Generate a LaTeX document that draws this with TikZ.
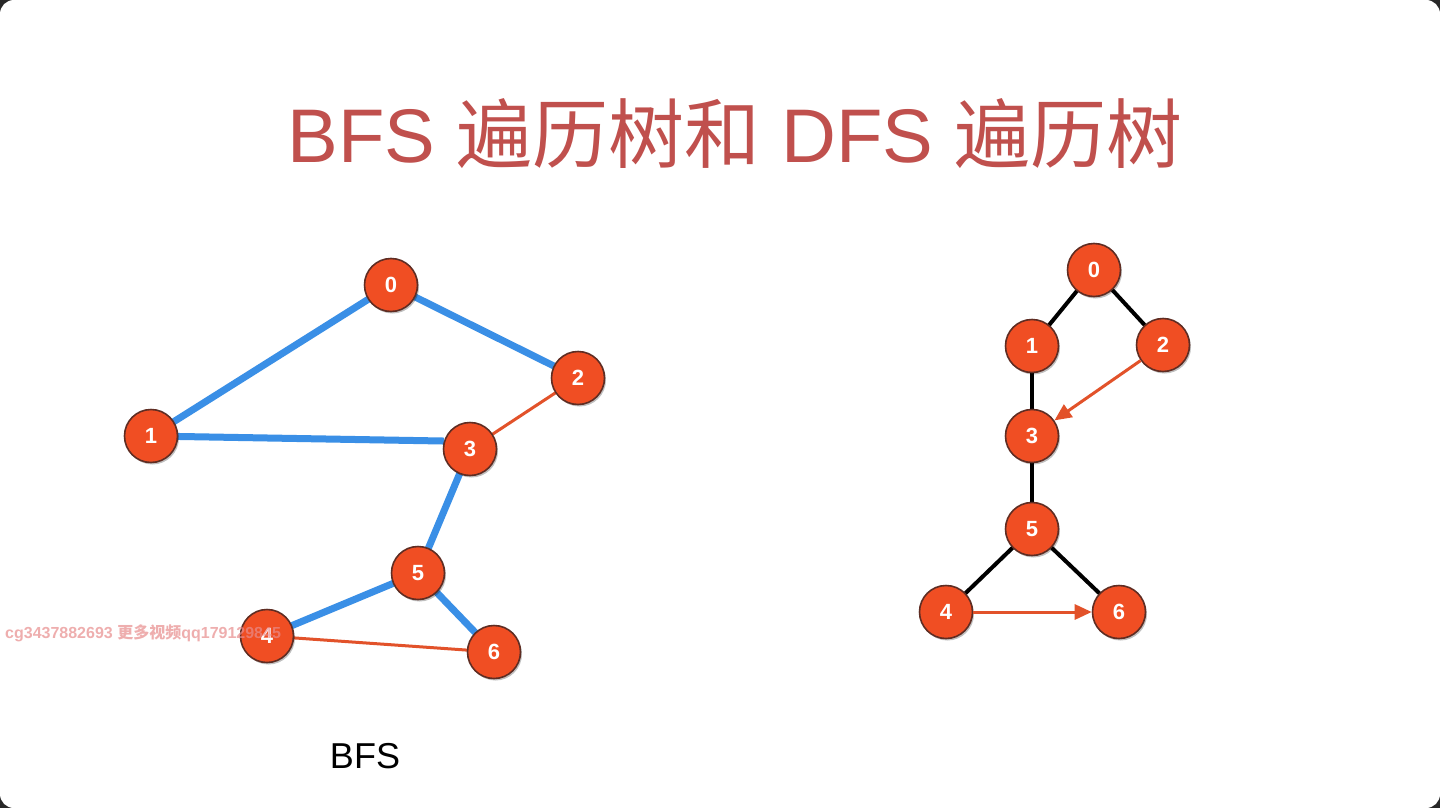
\documentclass[tikz,border=0pt]{standalone}
\usepackage{fontspec}
\setmainfont{Liberation Sans}
\newfontfamily\cjk{Noto Sans CJK SC}
\usetikzlibrary{arrows.meta,shadows}
\definecolor{nodefill}{RGB}{240,78,35}
\definecolor{nodeedge}{RGB}{95,45,35}
\definecolor{bfsblue}{RGB}{58,143,230}
\definecolor{crossred}{RGB}{226,82,42}
\definecolor{titlered}{RGB}{192,80,77}
\definecolor{wmark}{RGB}{232,140,140}
\definecolor{screen}{RGB}{40,40,40}
\pgfdeclarelayer{framelayer}
\pgfdeclarelayer{edgelayer}
\pgfsetlayers{framelayer,edgelayer,main}
\tikzset{
  vtx/.style={circle,minimum size=53pt,inner sep=0pt,fill=nodefill,draw=nodeedge,line width=1.6pt,
    text=white,font=\fontsize{22}{22}\selectfont\bfseries,
    drop shadow={shadow xshift=1.5pt,shadow yshift=-2pt,opacity=0.25,fill=black}},
  treeedge/.style={bfsblue,line width=7pt},
  crossedge/.style={crossred,line width=3pt},
  dfsedge/.style={black,line width=4pt},
  backarrow/.style={crossred,line width=3pt,-{Triangle[length=17pt,width=15pt]}},
}
\begin{document}
\begin{tikzpicture}[x=1pt,y=-1pt]
\useasboundingbox (0,0) rectangle (1440,808);
\begin{pgfonlayer}{framelayer}
  \fill[screen] (0,0) rectangle (1440,808);
  \fill[white,rounded corners=14pt] (0,0) rectangle (1440,808);
\end{pgfonlayer}

% title
\node[text=titlered,font=\fontsize{76}{76}\selectfont,anchor=base] (title) at (735,162)
  {BFS {\cjk 遍历树和} DFS {\cjk 遍历树}};

% left BFS graph
\node[vtx] (a0) at (391,285) {0};
\node[vtx] (a1) at (151,436) {1};
\node[vtx] (a2) at (578,378) {2};
\node[vtx] (a3) at (470,449) {3};
\node[vtx] (a4) at (267,636) {4};
\node[vtx] (a5) at (418,573) {5};
\node[vtx] (a6) at (494,652) {6};
\begin{pgfonlayer}{edgelayer}
  \draw[treeedge] (a0.center) -- (a1.center);
  \draw[treeedge] (a0.center) -- (a2.center);
  \draw[treeedge] (a1.center) -- (a3.163);
  \draw[treeedge] (a3.center) -- (a5.center);
  \draw[treeedge] (a5.center) -- (a4.center);
  \draw[treeedge] (a5.center) -- (a6.center);
  \draw[crossedge] (a2.center) -- (a3.center);
  \draw[crossedge] (a4.center) -- (a6.center);
\end{pgfonlayer}
\node[font=\fontsize{36}{36}\selectfont,anchor=base] (bfslabel) at (365,768) {BFS};

% right DFS tree
\node[vtx] (b0) at (1094,270) {0};
\node[vtx] (b1) at (1032,346) {1};
\node[vtx] (b2) at (1163,345) {2};
\node[vtx] (b3) at (1032,436) {3};
\node[vtx] (b5) at (1032,529) {5};
\node[vtx] (b4) at (946,612) {4};
\node[vtx] (b6) at (1119,612) {6};
\begin{pgfonlayer}{edgelayer}
  \draw[dfsedge] (b0.center) -- (b1.center);
  \draw[dfsedge] (b0.center) -- (b2.center);
  \draw[dfsedge] (b1.center) -- (b3.center);
  \draw[dfsedge] (b3.center) -- (b5.center);
  \draw[dfsedge] (b5.center) -- (b4.center);
  \draw[dfsedge] (b5.center) -- (b6.center);
\end{pgfonlayer}
\draw[backarrow] (b2) -- (b3);
\draw[backarrow] (b4) -- (b6);

% watermark
\node[text=wmark,opacity=0.7,font=\fontsize{16}{16}\selectfont\bfseries,anchor=base west,inner sep=0pt] (wm) at (5,638)
  {cg3437882693 {\cjk 更多视频}qq179129845};
\end{tikzpicture}
\end{document}
